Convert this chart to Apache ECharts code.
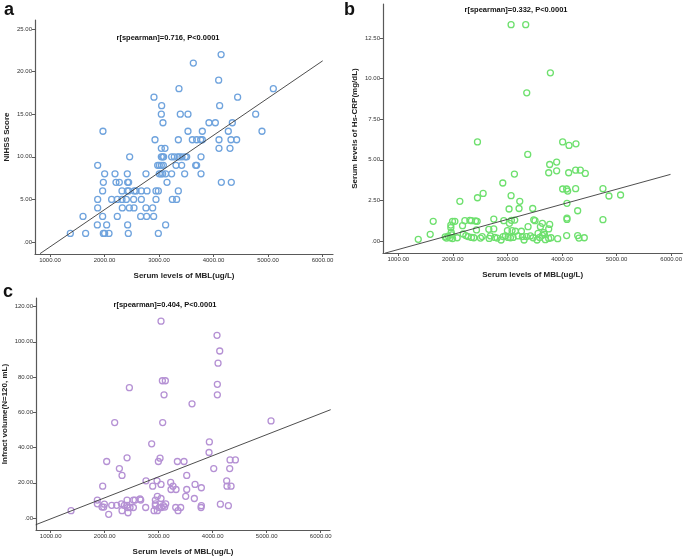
<!DOCTYPE html>
<html><head><meta charset="utf-8">
<script src="https://cdn.jsdelivr.net/npm/echarts@6/dist/echarts.min.js"></script>
<style>html,body{margin:0;padding:0;background:#fff}#c{width:685px;height:557px}</style>
</head><body><div id="c"></div>
<script>
// ---- tick labels ----
const xTicks = [1000, 2000, 3000, 4000, 5000, 6000];
const yTicksA = [0, 5, 10, 15, 20, 25];
const yTicksB = [0, 2.5, 5, 7.5, 10, 12.5];
const yTicksC = [0, 20, 40, 60, 80, 100, 120];

// ---- texts ----
const panelLetters = ['a', 'b', 'c'];
const statA = 'r[spearman]=0.716, P<0.0001';
const statB = 'r[spearman]=0.332, P<0.0001';
const statC = 'r[spearman]=0.404, P<0.0001';
const xTitle = 'Serum levels of MBL(ug/L)';
const yTitleA = 'NIHSS Score';
const yTitleB = 'Serum levels of Hs-CRP(mg/dL)';
const yTitleC = 'Infract volume(N=120, mL)';

// ---- panel a: MBL vs NIHSS ----
const mblA = [4140,3630,4095,3367,5098,2908,4443,3049,4113,3043,3391,3532,4774,3073,3917,4034,4346,
  1972,3532,3795,4272,4890,
  2927,3355,3612,3691,3765,3795,4101,4321,4425,
  3043,3110,4101,4303,
  2462,3043,3067,3086,3232,3281,3342,3373,3422,3483,3508,3771,
  1875,2976,3006,3043,3080,3312,3416,3673,3691,
  2003,2193,2419,2761,3006,3037,3067,3122,3232,3471,3771,
  1979,2211,2272,2425,2443,3147,4144,4327,
  1966,2321,2419,2443,2547,2578,2676,2780,2945,2988,3355,
  1875,2131,2235,2321,2401,2535,2676,2945,3245,3324,
  1875,2327,2456,2541,2761,2884,
  1606,1966,2235,2664,2773,2902,
  1869,2040,2425,3122,
  1373,1654,1979,2003,2083,2437,2988];
const nihssA = [22,21,19,18,18,17,17,16,16,15,15,15,15,14,14,14,14,
  13,13,13,13,13,
  12,12,12,12,12,12,12,12,12,
  11,11,11,11,
  10,10,10,10,10,10,10,10,10,10,10,10,
  9,9,9,9,9,9,9,9,9,
  8,8,8,8,8,8,8,8,8,8,8,
  7,7,7,7,7,7,7,7,
  6,6,6,6,6,6,6,6,6,6,6,
  5,5,5,5,5,5,5,5,5,5,
  4,4,4,4,4,4,
  3,3,3,3,3,3,
  2,2,2,2,
  1,1,1,1,1,1,1];
const fitAx = [817, 6004];
const fitAy = [-1.37, 21.27];

// ---- panel b: MBL vs Hs-CRP ----
const mblB = [3067,3335,3787,3354,2451,4012,4128,4256,3372,3902,3774,3902,3756,4122,4250,4335,4427,3128,
  2915,2555,2451,3067,2128,3226,4012,4085,4104,4250,4750,4860,5073,4091,3030,3213,3463,4287,
  4091,4091,4750,1640,1994,2037,2220,2311,2341,2415,2445,2750,2933,3073,3134,3482,3506,3640,3037,
  1963,1963,2177,3774,3756,3378,3604,1585,1366,1970,1982,2433,2750,2659,3000,3085,3146,3256,3561,3665,3677,
  1860,1884,1915,1951,1994,2079,2189,2238,2280,2341,2384,2506,2537,2665,2689,2768,2811,2884,2921,2963,
  3012,3055,3104,3195,3274,3305,3348,3421,3470,3543,3591,3640,3695,3756,3799,3921,4085,4287,4311,4408];
const crpB = [13.32,13.32,10.35,9.12,6.1,6.1,5.88,5.98,5.33,4.86,4.71,4.32,4.2,4.2,4.36,4.36,4.16,4.12,
  3.57,2.93,2.66,2.79,2.44,2.44,3.2,3.2,3.07,3.22,3.22,2.77,2.83,2.32,1.97,2.0,2.0,1.86,
  1.41,1.33,1.31,1.21,1.21,1.21,1.25,1.27,1.25,1.23,1.21,1.35,1.25,1.27,1.29,1.3,1.25,1.09,1.09,
  0.98,0.82,0.94,1.02,0.74,0.88,0.88,0.41,0.1,0.53,0.37,0.68,0.74,0.72,0.64,0.64,0.6,0.6,0.47,0.51,0.41,
  0.25,0.18,0.3,0.2,0.15,0.2,0.43,0.33,0.27,0.22,0.2,0.18,0.27,0.16,0.31,0.22,0.18,0.06,0.27,0.31,
  0.22,0.2,0.22,0.31,0.27,0.06,0.27,0.31,0.2,0.06,0.22,0.35,0.08,0.16,0.2,0.14,0.33,0.33,0.18,0.2];
const fitBx = [756, 5988];
const fitBy = [-0.75, 4.1];

// ---- panel c: MBL vs infarct volume ----
const mblC = [3043,4080,4130,4099,3068,3123,4086,2457,3099,4086,3617,
  2185,3074,5080,2870,3938,3932,2037,2414,2994,3025,3346,3469,4321,4420,
  2272,2321,3519,4019,4315,2765,2969,3222,1963,2889,3043,3265,3321,3228,3519,3673,3790,4259,4265,4340,
  3500,3660,2975,3043,2938,2414,2531,2562,2654,2667,1864,
  1864,1994,2130,2222,2309,2364,2414,2426,2469,2531,2759,2938,2938,3012,3049,3086,3130,3111,3315,3407,3784,3790,4142,4290,
  1951,1982,1377,2321,2432,2074,2914,2975,3358];
const volC = [111.7,103.7,94.8,87.9,77.9,77.9,75.9,74,69.9,69.9,64.8,
  54.2,54.2,55.1,42.1,43.2,37.2,32.1,34.2,32.1,34,32.1,32.1,33,33,
  28.1,24.2,24.2,28.1,28.1,21.1,21.1,20.2,18.1,18.1,19.1,18.1,16.2,16.2,16.2,19.1,17.2,21.1,18.1,18.1,
  12.3,11.1,12.3,11.1,10.2,10.2,10.2,10.2,10.8,10.2,10.2,
  8.1,7.9,7.2,7.2,8.1,7.2,7.2,6,6,6,6,8.1,7,6,6,7,8.1,6.2,6,6,6,7,7.9,7,
  6.2,6.2,4.2,4.2,3,2.1,4.2,4.2,4.2];
const fitCx = [722, 6185];
const fitCy = [-3.8, 61.5];

// ---- styling helpers ----
const FONT = 'Liberation Sans, Arial, sans-serif';
const AXIS_COLOR = '#595959';
const fmtY = v => (v === 0 ? '.00' : v.toFixed(2));
const fmtX = v => v.toFixed(2);
const zip = (a, b) => a.map((v, i) => [v, b[i]]);

function xAxisCfg(gridIndex, min, max) {
  return {
    type: 'value', gridIndex, min, max,
    name: xTitle, nameLocation: 'middle', nameGap: 18,
    nameTextStyle: { fontFamily: FONT, fontWeight: 'bold', fontSize: 8, color: '#222' },
    splitLine: { show: false },
    axisLine: { show: true, onZero: false, lineStyle: { color: AXIS_COLOR, width: 1.2 } },
    axisTick: { show: true, length: 3, customValues: xTicks, lineStyle: { color: AXIS_COLOR } },
    axisLabel: { customValues: xTicks, formatter: fmtX, fontFamily: FONT, fontSize: 6, color: '#333', margin: 3 }
  };
}
function yAxisCfg(gridIndex, min, max, ticks, title, gap) {
  return {
    type: 'value', gridIndex, min, max,
    name: title, nameLocation: 'middle', nameGap: gap, nameRotate: 90,
    nameTextStyle: { fontFamily: FONT, fontWeight: 'bold', fontSize: 8, color: '#222' },
    splitLine: { show: false },
    axisLine: { show: true, onZero: false, lineStyle: { color: AXIS_COLOR, width: 1.2 } },
    axisTick: { show: true, length: 3, customValues: ticks, lineStyle: { color: AXIS_COLOR } },
    axisLabel: { customValues: ticks, formatter: fmtY, fontFamily: FONT, fontSize: 6, color: '#333', margin: 3 }
  };
}
function scatter(idx, xs, ys, color) {
  return {
    type: 'scatter', xAxisIndex: idx, yAxisIndex: idx, data: zip(xs, ys),
    symbol: 'circle', symbolSize: 6, silent: true,
    itemStyle: { color: 'rgba(255,255,255,0)', borderColor: color, borderWidth: 1.3, opacity: 1 }
  };
}
function fit(idx, xs, ys) {
  return {
    type: 'line', xAxisIndex: idx, yAxisIndex: idx, data: zip(xs, ys),
    symbol: 'none', silent: true, lineStyle: { color: '#3a3a3a', width: 0.9 }
  };
}
function txt(x, y, s, size, align) {
  return { type: 'text', x, y, style: { text: s, fontFamily: FONT, fontWeight: 'bold', fontSize: size,
    fill: '#111', align: align || 'center', verticalAlign: 'middle' } };
}

const chart = echarts.init(document.getElementById('c'), null, { renderer: 'canvas' });
chart.setOption({
  animation: false,
  backgroundColor: '#fff',
  grid: [
    { left: 35, top: 20, width: 298, height: 234 },
    { left: 383, top: 4, width: 300, height: 249 },
    { left: 36, top: 298, width: 294, height: 233 }
  ],
  xAxis: [
    xAxisCfg(0, 725, 6193),
    xAxisCfg(1, 720, 6204),
    xAxisCfg(2, 728, 6172)
  ],
  yAxis: [
    yAxisCfg(0, -1.41, 26.06, yTicksA, yTitleA, 24),
    yAxisCfg(1, -0.74, 14.59, yTicksB, yTitleB, 24),
    yAxisCfg(2, -6.78, 124.86, yTicksC, yTitleC, 27)
  ],
  series: [
    scatter(0, mblA, nihssA, '#6fa3dd'),
    fit(0, fitAx, fitAy),
    scatter(1, mblB, crpB, '#6ee06e'),
    fit(1, fitBx, fitBy),
    scatter(2, mblC, volC, '#b591d4'),
    fit(2, fitCx, fitCy)
  ],
  graphic: [
    txt(4, 10, panelLetters[0], 18, 'left'),
    txt(344, 10, panelLetters[1], 18, 'left'),
    txt(3, 292, panelLetters[2], 18, 'left'),
    txt(168, 37.5, statA, 7.5),
    txt(516, 10, statB, 7.5),
    txt(165, 305, statC, 7.5)
  ]
});
</script>
</body></html>
